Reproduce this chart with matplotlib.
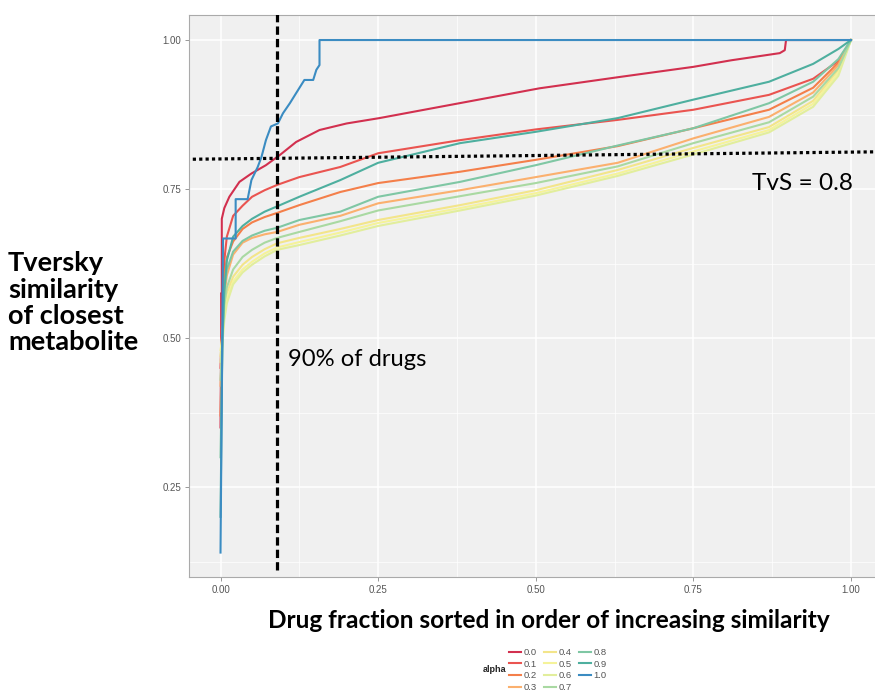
"""
Tversky similarity of the closest metabolite vs. drug fraction, one line per alpha.
"""
import matplotlib
matplotlib.use('Agg')
import matplotlib.pyplot as plt
from matplotlib.ticker import MultipleLocator

W, H = 875, 698

alphas = ['0.0', '0.1', '0.2', '0.3', '0.4', '0.5', '0.6', '0.7', '0.8', '0.9', '1.0']
colours = ['#D2304F', '#EA5450', '#F47F4A', '#FBB06E', '#F3E58A', '#F5F39A', '#E2EE9C',
           '#A9D9A2', '#7FC7A4', '#4EAF9F', '#3B8CC2']

# shared x positions for the smooth curves (alpha 0.1 - 0.9)
frac = [0.000, 0.003, 0.006, 0.010, 0.020, 0.035, 0.050, 0.070, 0.090, 0.125,
        0.190, 0.250, 0.380, 0.500, 0.630, 0.750, 0.870, 0.940, 0.980, 1.000]

sim_01 = [0.45, 0.55, 0.63, 0.67, 0.705, 0.722, 0.737, 0.748, 0.757, 0.770,
          0.787, 0.810, 0.832, 0.850, 0.866, 0.883, 0.908, 0.935, 0.965, 1.0]
sim_02 = [0.37, 0.52, 0.60, 0.635, 0.662, 0.683, 0.694, 0.703, 0.710, 0.723,
          0.745, 0.760, 0.779, 0.799, 0.822, 0.852, 0.883, 0.920, 0.962, 1.0]
sim_03 = [0.42, 0.50, 0.57, 0.605, 0.640, 0.660, 0.668, 0.674, 0.678, 0.690,
          0.705, 0.726, 0.748, 0.770, 0.794, 0.835, 0.871, 0.912, 0.958, 1.0]
sim_04 = [0.47, 0.51, 0.55, 0.575, 0.603, 0.623, 0.636, 0.649, 0.659, 0.668,
          0.683, 0.698, 0.723, 0.748, 0.782, 0.819, 0.854, 0.898, 0.950, 1.0]
sim_05 = [0.48, 0.50, 0.54, 0.565, 0.595, 0.615, 0.628, 0.642, 0.652, 0.661,
          0.677, 0.693, 0.718, 0.743, 0.776, 0.813, 0.849, 0.893, 0.945, 1.0]
sim_06 = [0.46, 0.49, 0.53, 0.558, 0.590, 0.610, 0.623, 0.637, 0.648, 0.656,
          0.672, 0.688, 0.714, 0.739, 0.772, 0.808, 0.845, 0.888, 0.940, 1.0]
sim_07 = [0.43, 0.50, 0.555, 0.585, 0.615, 0.636, 0.648, 0.660, 0.668, 0.678,
          0.696, 0.714, 0.738, 0.760, 0.788, 0.827, 0.862, 0.905, 0.953, 1.0]
sim_08 = [0.30, 0.49, 0.58, 0.615, 0.645, 0.663, 0.672, 0.680, 0.685, 0.698,
          0.712, 0.737, 0.762, 0.790, 0.823, 0.852, 0.894, 0.930, 0.968, 1.0]
sim_09 = [0.20, 0.50, 0.58, 0.630, 0.670, 0.688, 0.700, 0.712, 0.721, 0.737,
          0.765, 0.794, 0.827, 0.846, 0.869, 0.900, 0.930, 0.960, 0.985, 1.0]

# alpha 0.0 and 1.0 have jumps, so they get their own x positions
frac_00 = [0.000, 0.001, 0.001, 0.002, 0.002, 0.006, 0.014, 0.030, 0.049, 0.072,
           0.094, 0.120, 0.157, 0.200, 0.252, 0.379, 0.506, 0.633, 0.750, 0.810,
           0.887, 0.895, 0.897, 1.000]
sim_00 = [0.35, 0.50, 0.575, 0.575, 0.700, 0.718, 0.737, 0.762, 0.776, 0.790,
          0.807, 0.829, 0.849, 0.860, 0.869, 0.894, 0.919, 0.938, 0.955, 0.966,
          0.978, 0.983, 1.000, 1.000]

frac_10 = [0.000, 0.004, 0.024, 0.024, 0.043, 0.049, 0.059, 0.065, 0.072, 0.080,
           0.091, 0.099, 0.110, 0.120, 0.133, 0.147, 0.152, 0.157, 0.157, 1.000]
sim_10 = [0.14, 0.667, 0.667, 0.733, 0.733, 0.765, 0.787, 0.804, 0.832, 0.855,
          0.860, 0.877, 0.894, 0.911, 0.933, 0.933, 0.950, 0.958, 1.000, 1.000]

series_x = [frac_00] + [frac] * 9 + [frac_10]
series_y = [sim_00, sim_01, sim_02, sim_03, sim_04, sim_05, sim_06, sim_07,
            sim_08, sim_09, sim_10]

x_ticks = [0.00, 0.25, 0.50, 0.75, 1.00]
y_ticks = [0.25, 0.50, 0.75, 1.00]
drug_cut = 0.09
tvs_cut = 0.8
y_title = ['Tversky', 'similarity', 'of closest', 'metabolite']


def fx(px):
    return px / W


def fy(py):
    return 1 - py / H


fig = plt.figure(figsize=(W / 100, H / 100), dpi=100)
ax = fig.add_axes([fx(189), fy(577), fx(882.5) - fx(189), fy(15) - fy(577)])
ax.set_facecolor('#F0F0F0')

for xs, ys, col, lab in zip(series_x, series_y, colours, alphas):
    ax.plot(xs, ys, color=col, lw=1.5, label=lab, solid_joinstyle='round', zorder=3)

# annotations
ax.plot([drug_cut, drug_cut], [0.11, 1.05], color='black', lw=2.3,
        dashes=(2.6, 1.3), zorder=5)
ax.plot([-0.044, 1.05], [tvs_cut, tvs_cut + 0.0125], color='black', lw=2.3,
        dashes=(1, 1), zorder=5)

ax.set_xlim(-0.05, 1.05)
ax.set_ylim(0.099, 1.042)
ax.set_xticks(x_ticks)
ax.set_yticks(y_ticks)
ax.set_xticklabels(['%.2f' % v for v in x_ticks])
ax.set_yticklabels(['%.2f' % v for v in y_ticks])
ax.xaxis.set_minor_locator(MultipleLocator(0.125))
ax.yaxis.set_minor_locator(MultipleLocator(0.125))
ax.grid(which='major', color='white', lw=1.1, zorder=0)
ax.grid(which='minor', color='white', lw=0.5, zorder=0)
ax.set_axisbelow(True)
ax.tick_params(which='major', length=3, width=0.6, color='#888888', pad=2.5,
               labelsize=7, labelcolor='#555555')
ax.tick_params(which='minor', length=0)
for lbl in ax.get_xticklabels() + ax.get_yticklabels():
    lbl.set_fontfamily('Liberation Sans')
for sp in ax.spines.values():
    sp.set_color('#AAAAAA')
    sp.set_linewidth(0.8)

big = 'Lato'
for i, line in enumerate(y_title):
    fig.text(fx(8), fy(263 + 26.5 * i), line, ha='left', va='center',
             fontsize=19.5, fontweight='bold', family=big)
fig.text(fx(549), fy(621), 'Drug fraction sorted in order of increasing similarity',
         ha='center', va='center', fontsize=17.6, fontweight='bold', family=big)
fig.text(fx(288), fy(360), '90% of drugs', ha='left', va='center', fontsize=17.1, family=big)
fig.text(fx(752), fy(183), 'TvS = 0.8', ha='left', va='center', fontsize=17.6, family=big)

# legend, title on the left like ggplot
fig.text(fx(506), fy(669), 'alpha', ha='right', va='center', fontsize=6.5,
         fontweight='bold', family='Liberation Sans', color='#222222')
handles, labels = ax.get_legend_handles_labels()
leg = fig.legend(handles, labels, ncol=3, loc='upper left',
                 bbox_to_anchor=(fx(509), fy(648)), frameon=False, borderpad=0,
                 borderaxespad=0, handlelength=1.25, handletextpad=0.3,
                 columnspacing=0.75, labelspacing=0.28,
                 prop={'family': 'Liberation Sans', 'size': 6.8})
for t in leg.get_texts():
    t.set_color('#555555')

fig.savefig('out.png', dpi=100)
